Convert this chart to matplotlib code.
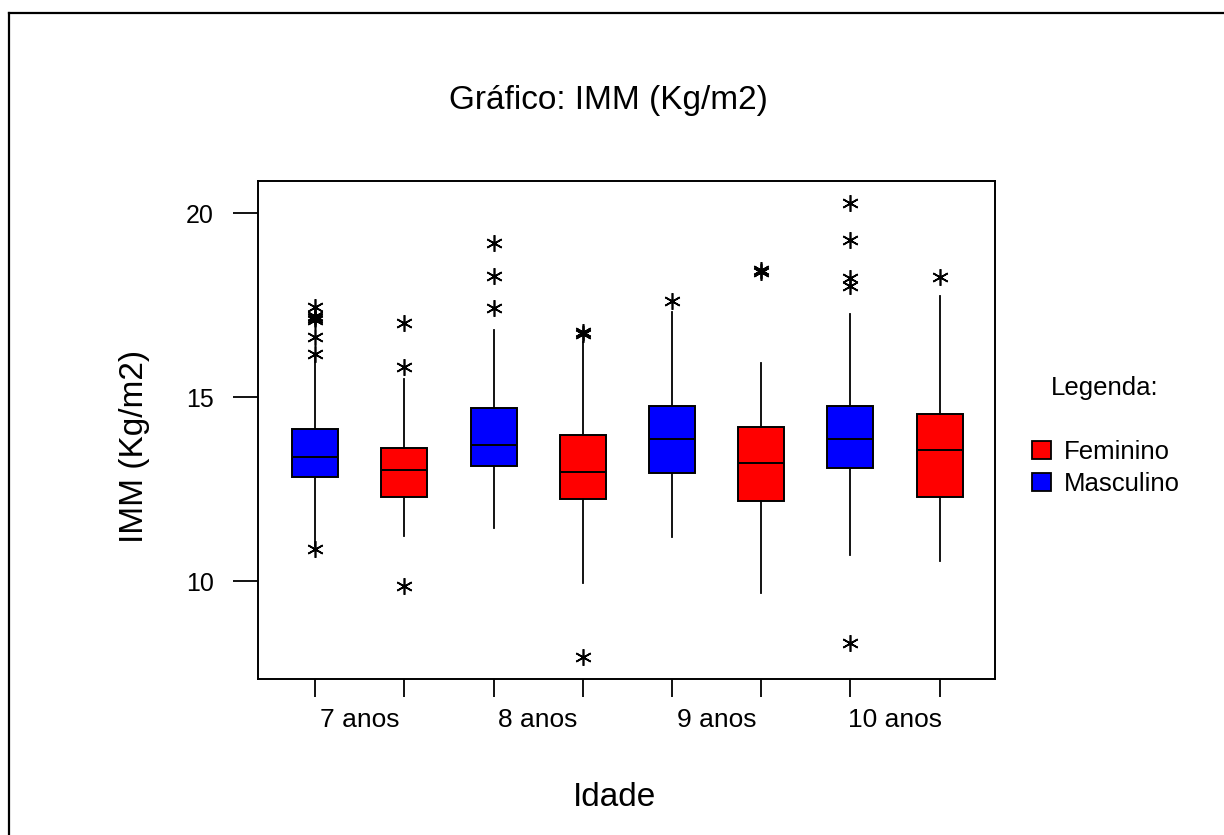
import numpy as np
import matplotlib
matplotlib.use('Agg')
import matplotlib.pyplot as plt
from matplotlib.patches import Patch
from matplotlib.lines import Line2D

plt.rcParams['font.family'] = ['Liberation Sans', 'DejaVu Sans']

# data, order: 7M, 7F, 8M, 8F, 9M, 9F, 10M, 10F
groups = ['7M', '7F', '8M', '8F', '9M', '9F', '10M', '10F']
sexo = ['Masculino', 'Feminino'] * 4
q1 = [12.83, 12.28, 13.12, 12.23, 12.93, 12.17, 13.07, 12.29]
med = [13.38, 13.02, 13.71, 12.97, 13.87, 13.21, 13.87, 13.56]
q3 = [14.12, 13.62, 14.70, 13.96, 14.75, 14.20, 14.75, 14.54]
whislo = [10.95, 11.23, 11.43, 9.95, 11.19, 9.67, 10.70, 10.55]
whishi = [16.10, 15.49, 16.82, 16.49, 17.31, 15.93, 17.26, 17.75]
fliers = [
    [10.86, 16.18, 16.62, 17.10, 17.15, 17.20, 17.45],
    [9.86, 15.82, 17.02],
    [17.42, 18.30, 19.19],
    [7.94, 16.72, 16.76],
    [17.61],
    [18.41, 18.45],
    [8.33, 18.02, 18.23, 19.28, 20.27],
    [18.25],
]
idades = ['7 anos', '8 anos', '9 anos', '10 anos']
cores = {'Feminino': '#ff0000', 'Masculino': '#0000ff'}

stats = []
for i in range(len(groups)):
    stats.append({'label': groups[i], 'q1': q1[i], 'med': med[i], 'q3': q3[i],
                  'whislo': whislo[i], 'whishi': whishi[i], 'fliers': fliers[i]})

fig = plt.figure(figsize=(12.24, 8.35), dpi=100)
ax = fig.add_axes([258/1224, 1 - 679/835, (995-258)/1224, (679-181)/835])

pos = np.arange(1, len(groups) + 1)
bp = ax.bxp(stats, positions=pos, widths=0.515, patch_artist=True, showcaps=False,
            boxprops=dict(linewidth=1.4, edgecolor='black'),
            medianprops=dict(color='black', linewidth=1.4),
            whiskerprops=dict(color='black', linewidth=1.3),
            flierprops=dict(marker=(6, 2, 0), markersize=12, markeredgewidth=1.2,
                            markeredgecolor='black', markerfacecolor='black', linestyle='none'))
for box, s in zip(bp['boxes'], sexo):
    box.set_facecolor(cores[s])

ax.set_xlim(0.36, 8.62)
ax.set_ylim(7.34, 20.87)
ax.set_yticks([10, 15, 20])
ax.set_xticks(pos)
ax.set_xticklabels([])
ax.set_xticks(np.arange(1.5, 8, 2), minor=True)
ax.set_xticklabels(idades, minor=True)
ax.tick_params(axis='x', which='major', direction='out', length=13, width=1.3)
ax.tick_params(axis='x', which='minor', length=0, pad=21, labelsize=19)
ax.tick_params(axis='y', direction='out', length=18, width=1.3, pad=14, labelsize=18)
for sp in ax.spines.values():
    sp.set_linewidth(1.4)

fig.text(0.497, 1 - 100/835, 'Gráfico: IMM (Kg/m2)', ha='center', va='center', fontsize=24)
fig.text(614/1224, 1 - 797/835, 'Idade', ha='center', va='center', fontsize=24)
fig.text(135/1224, 1 - 446/835, 'IMM (Kg/m2)', ha='center', va='center', rotation=90, fontsize=24)

# legend
fig.text(1051/1224, 1 - 388/835, 'Legenda:', ha='left', va='center', fontsize=18.5)
handles = [Patch(facecolor=cores['Feminino'], edgecolor='black', linewidth=1.3),
           Patch(facecolor=cores['Masculino'], edgecolor='black', linewidth=1.3)]
fig.legend(handles, ['Feminino', 'Masculino'], loc='upper left',
           bbox_to_anchor=(1032/1224, 1 - 440/835), frameon=False, fontsize=18.5,
           borderpad=0, borderaxespad=0, handlelength=0.75, handleheight=0.72,
           handletextpad=0.5, labelspacing=0.32)

# outer frame (only top and left edges visible)
fig.add_artist(Line2D([9/1224, 9/1224], [0, 1 - 13/835], color='black', linewidth=1.6))
fig.add_artist(Line2D([9/1224, 1], [1 - 13/835, 1 - 13/835], color='black', linewidth=1.6))

fig.savefig('out.png', dpi=100)
